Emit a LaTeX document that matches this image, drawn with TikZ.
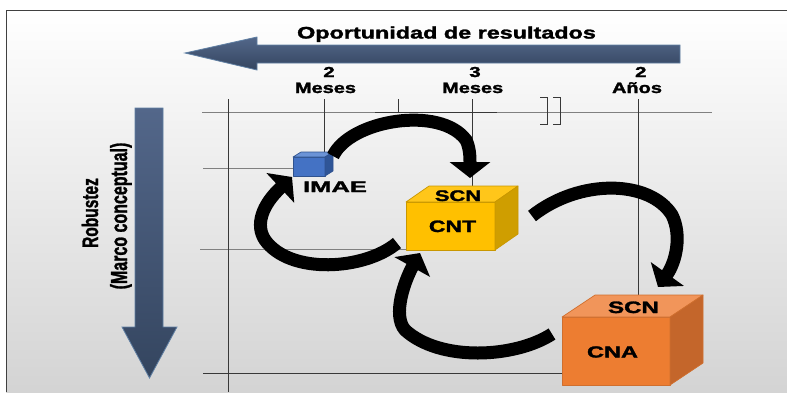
\documentclass[tikz,border=0pt]{standalone}
\usepackage{fontspec}
\setmainfont{Liberation Sans}[BoldFeatures={FakeBold=1.6}]
\usepackage{graphicx}
\usetikzlibrary{arrows.meta,calc}
\definecolor{arrtop}{HTML}{53678A}
\definecolor{arrbot}{HTML}{34455F}
\definecolor{arredge}{HTML}{5F7FA3}
\definecolor{imaeF}{HTML}{4472C4}
\definecolor{imaeT}{HTML}{6B93D6}
\definecolor{imaeS}{HTML}{2F5597}
\definecolor{imaeE}{HTML}{2F528F}
\definecolor{cntF}{HTML}{FFC000}
\definecolor{cntT}{HTML}{FFC61A}
\definecolor{cntS}{HTML}{CF9E00}
\definecolor{cntE}{HTML}{C99700}
\definecolor{cnaF}{HTML}{ED7D31}
\definecolor{cnaT}{HTML}{F1955A}
\definecolor{cnaS}{HTML}{C4662B}
\definecolor{cnaE}{HTML}{D06F2E}
\newcommand{\sx}[2]{\scalebox{#1}[1]{#2}}
\newcommand{\sy}[2]{\scalebox{1}[#1]{#2}}
\newcommand{\fs}[1]{\bfseries\fontsize{#1}{#1}\selectfont}
\newcommand{\cubefaces}[6]{%
  \filldraw[fill=#4, draw=#6, face] (#1.north west) -- ++(#2,-#3) -- ($(#1.north east)+(#2,-#3)$) -- (#1.north east) -- cycle;
  \filldraw[fill=#5, draw=#6, face] (#1.north east) -- ++(#2,-#3) -- ($(#1.south east)+(#2,-#3)$) -- (#1.south east) -- cycle;}
\begin{document}
\begin{tikzpicture}[x=1pt,y=-1pt,
  lbl/.style={inner sep=0pt, outer sep=0pt, anchor=base},
  gridh/.style={draw=black!50, line width=0.9pt},
  gridv/.style={draw=black!78, line width=0.9pt},
  curv/.style={line width=13pt, draw=black, -{Triangle[length=16pt,width=40pt]}},
  face/.style={line width=0.7pt, line join=round},
  front/.style={rectangle, inner sep=0pt, outer sep=0pt, face}]
\useasboundingbox (0,0) rectangle (787,392);
\fill[white] (0,0) rectangle (787,392);
\shade[top color=white, middle color=black!5, bottom color=black!17] (6,10) rectangle (787,392);
\draw[black!75, line width=1.2pt] (787,10.5) -- (6.5,10.5) -- (6.5,392);
% big arrows
\draw[draw=arredge, line width=0.8pt, top color=arrtop, bottom color=arrbot]
  (185,53) -- (257,37) -- (257,45) -- (680,45) -- (680,63) -- (257,63) -- (257,70) -- cycle;
\draw[draw=arredge, line width=0.8pt, top color=arrtop, bottom color=arrbot]
  (135,108) -- (163,108) -- (163,327) -- (177,327) -- (149.5,378) -- (122,327) -- (135,327) -- cycle;
% grid
\draw[gridh] (202,112) -- (712,112);
\draw[gridv] (375,112) -- (497,112);
\draw[gridh] (203,168) -- (293,168);
\draw[gridh] (200,249) -- (406,249);
\draw[gridv] (203,373) -- (562,373);
\draw[gridv] (228,99) -- (228,392);
\draw[gridv] (324,99) -- (324,157);
\draw[gridv] (398,99) -- (398,112);
\draw[gridv] (472.5,99) -- (472.5,186);
\draw[gridv] (638.5,99) -- (638.5,295);
\draw[gridv] (540,97) -- (547,97) -- (547,124) -- (540,124);
\draw[gridv] (553,97) -- (560,97) -- (560,124) -- (553,124);
% cubes
\node[front, fill=imaeF, draw=imaeE, minimum width=32pt, minimum height=19pt] (imae) at (309,166.5) {};
\cubefaces{imae}{8}{5}{imaeT}{imaeS}{imaeE}
\node[front, fill=cntF, draw=cntE, minimum width=89pt, minimum height=48pt] (cnt) at (450.5,226) {};
\cubefaces{cnt}{23}{16}{cntT}{cntS}{cntE}
\node[front, fill=cnaF, draw=cnaE, minimum width=108pt, minimum height=68pt] (cna) at (616,351) {};
\cubefaces{cna}{33}{22}{cnaT}{cnaS}{cnaE}
% curved arrows
\draw[curv] ($(imae.north east)+(8,-1)$) .. controls (350,120) and (440,105) .. (466,140)
  .. controls (470,148) and (470,158) .. ($(cnt.north)+(19.5,-24)$);
\draw[curv] ($(cnt.east)+(37,-10)$) .. controls (580,178) and (650,180) .. (672,215)
  .. controls (682,235) and (676,262) .. ($(cna.north)+(42,-30)$);
\draw[curv] ($(cna.west)+(-10,-17)$) .. controls (515,358) and (440,362) .. (405,330)
  .. controls (392,315) and (405,280) .. ($(cnt.south west)+(14,3)$);
\draw[curv] ($(cnt.west)+(-9,17)$) .. controls (365,270) and (290,275) .. (265,240)
  .. controls (255,225) and (262,205) .. ($(imae.south west)+(-1,1)$);
% texts
\node[lbl, font=\fs{16.7}] (title) at (446.5,38.5) {\sx{1.40}{Oportunidad de resultados}};
\node[lbl, font=\fs{14.5}] (n2) at (329,77) {\sx{1.4}{2}};
\node[lbl, font=\fs{15}] (m2) at (325.5,93) {\sx{1.33}{Meses}};
\node[lbl, font=\fs{14.5}] (n3) at (475,77) {\sx{1.4}{3}};
\node[lbl, font=\fs{15}] (m3) at (472.7,93) {\sx{1.33}{Meses}};
\node[lbl, font=\fs{14.5}] (n2b) at (640.8,77) {\sx{1.4}{2}};
\node[lbl, font=\fs{15}] (anos) at (637,93) {\sx{1.33}{Años}};
\node[lbl, font=\fs{15.4}] (imaet) at (335,192) {\sx{1.66}{IMAE}};
\node[lbl, font=\fs{15.4}] (scn1) at (458,201) {\sx{1.42}{SCN}};
\node[lbl, font=\fs{16.5}] (cntt) at (452.5,232) {\sx{1.39}{CNT}};
\node[lbl, font=\fs{16.5}] (scn2) at (633.5,313) {\sx{1.46}{SCN}};
\node[lbl, font=\fs{16}] (cnat) at (612.5,357.5) {\sx{1.47}{CNA}};
\node[lbl, rotate=90, font=\fs{15.5}] (rob) at (98,213) {\sy{1.45}{Robustez}};
\node[lbl, rotate=90, font=\fs{16}] (marco) at (127,216) {\sy{1.45}{(Marco conceptual)}};
\end{tikzpicture}
\end{document}
